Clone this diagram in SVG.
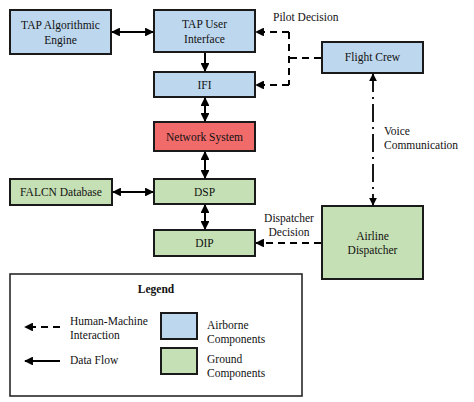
<svg xmlns="http://www.w3.org/2000/svg" width="474" height="402" viewBox="0 0 474 402">
<defs>
<marker id="ah" viewBox="0 0 10 10" refX="9" refY="5" markerWidth="4.4" markerHeight="4.4" orient="auto-start-reverse" markerUnits="strokeWidth">
<path d="M0,0 L10,5 L0,10 z" fill="#000"/>
</marker>
<style>
.box{stroke:#1a1a1a;stroke-width:2}
.air{fill:#bdd7ee}
.gnd{fill:#c5e0b4}
.net{fill:#f26b6b}
.t{font-size:11.5px;fill:#111;text-anchor:middle}
.l{text-anchor:start}
.solid{stroke:#000;stroke-width:2;fill:none}
.dash{stroke:#000;stroke-width:2;fill:none;stroke-dasharray:7,5}
.dd{stroke:#000;stroke-width:1.8;fill:none;stroke-dasharray:18,5,2,5}
</style>
</defs>
<rect width="474" height="402" fill="#fff"/>
<g font-family="'Liberation Serif', 'Times New Roman', serif" class="t">
<g id="tap-engine"><rect class="box air" x="10" y="10" width="101" height="44"/><text x="60.5" y="29">TAP Algorithmic</text><text x="60.5" y="44">Engine</text></g>
<g id="tap-ui"><rect class="box air" x="154" y="10" width="101" height="42"/><text x="204.5" y="28">TAP User</text><text x="204.5" y="43">Interface</text></g>
<g id="ifi"><rect class="box air" x="154" y="72" width="101" height="25"/><text x="204.5" y="89">IFI</text></g>
<g id="network"><rect class="box net" x="154" y="122" width="101" height="29"/><text x="204.5" y="140.5">Network System</text></g>
<g id="dsp"><rect class="box gnd" x="154" y="179" width="101" height="25"/><text x="204.5" y="196">DSP</text></g>
<g id="dip"><rect class="box gnd" x="154" y="230" width="101" height="26"/><text x="204.5" y="247">DIP</text></g>
<g id="falcn"><rect class="box gnd" x="10" y="179" width="102" height="26"/><text x="61" y="196">FALCN Database</text></g>
<g id="flight-crew"><rect class="box air" x="322" y="42" width="101" height="31"/><text x="372.5" y="61">Flight Crew</text></g>
<g id="dispatcher"><rect class="box gnd" x="322" y="206" width="101" height="73"/><text x="372.5" y="240">Airline</text><text x="372.5" y="254">Dispatcher</text></g>
<g id="connectors">
<line class="solid" x1="112" y1="32" x2="153" y2="32" marker-start="url(#ah)" marker-end="url(#ah)"/>
<line class="solid" x1="205" y1="53" x2="205" y2="71" marker-end="url(#ah)"/>
<line class="solid" x1="205" y1="98" x2="205" y2="121" marker-start="url(#ah)" marker-end="url(#ah)"/>
<line class="solid" x1="205" y1="152" x2="205" y2="178" marker-start="url(#ah)" marker-end="url(#ah)"/>
<line class="solid" x1="205" y1="205" x2="205" y2="229" marker-start="url(#ah)" marker-end="url(#ah)"/>
<line class="solid" x1="113" y1="192" x2="153" y2="192" marker-start="url(#ah)" marker-end="url(#ah)"/>
<polyline class="dash" points="289,32 289,85"/>
<line class="dash" x1="321" y1="58" x2="289" y2="58"/>
<line class="dash" x1="289" y1="32" x2="256" y2="32" marker-end="url(#ah)"/>
<line class="dash" x1="289" y1="85" x2="256" y2="85" marker-end="url(#ah)"/>
<line class="dd" x1="373" y1="74" x2="373" y2="205" marker-start="url(#ah)" marker-end="url(#ah)"/>
<line class="dash" x1="321" y1="243" x2="256" y2="243" marker-end="url(#ah)"/>
</g>
<g id="labels">
<text class="l" x="273" y="21">Pilot Decision</text>
<text class="l" x="384" y="135">Voice</text>
<text class="l" x="384" y="149">Communication</text>
<text x="289" y="222">Dispatcher</text>
<text x="289" y="236">Decision</text>
</g>
<g id="legend">
<rect x="10" y="274" width="292" height="122" fill="#fff" stroke="#1a1a1a" stroke-width="1.5"/>
<text x="156" y="293" font-weight="bold">Legend</text>
<line class="dash" x1="60" y1="327" x2="25" y2="327" marker-end="url(#ah)"/>
<line class="solid" x1="60" y1="361" x2="25" y2="361" marker-end="url(#ah)"/>
<text class="l" x="70" y="325">Human-Machine</text>
<text class="l" x="70" y="339">Interaction</text>
<text class="l" x="70" y="364">Data Flow</text>
<rect class="box air" x="161" y="313" width="36" height="26"/>
<rect class="box gnd" x="161" y="348" width="36" height="26"/>
<text class="l" x="207" y="329">Airborne</text>
<text class="l" x="207" y="343">Components</text>
<text class="l" x="207" y="363">Ground</text>
<text class="l" x="207" y="377">Components</text>
</g>
</g>
</svg>
